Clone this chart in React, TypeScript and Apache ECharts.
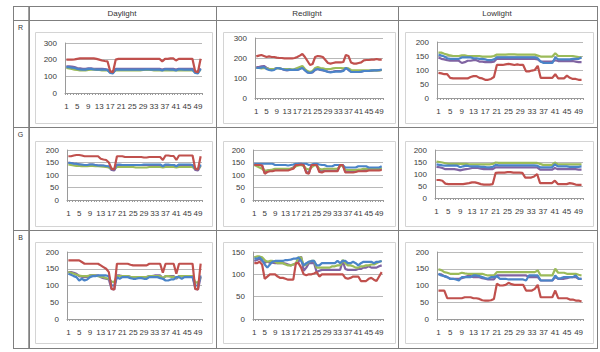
import React, { useEffect, useRef } from "react";
import * as echarts from "echarts";

const categories = Array.from({ length: 50 }, (_, i) => String(i + 1));
const columnTitles = ["Daylight", "Redlight", "Lowlight"];
const rowTitles = ["R", "G", "B"];

// Row R
const dayR_red = [200,200,200,202,205,208,208,208,208,208,208,205,200,195,192,190,130,125,200,205,205,205,205,205,205,205,205,205,205,205,205,205,205,205,205,190,205,205,208,208,195,205,205,205,205,205,205,130,125,205];
const dayR_blue = [155,155,152,150,145,142,140,140,145,145,142,140,140,140,140,138,120,118,140,142,140,140,140,140,140,140,140,140,140,142,142,140,140,140,140,135,142,142,140,140,135,142,142,140,140,140,140,120,118,145];
const dayR_green = [150,148,145,140,138,135,135,135,138,140,140,138,138,136,136,135,125,125,135,136,136,136,136,136,136,136,136,136,138,138,138,138,136,136,136,135,136,136,136,136,135,136,136,136,136,136,136,125,125,140];
const dayR_purple = [160,160,158,155,150,148,145,145,148,148,145,145,145,145,143,140,128,125,145,145,145,145,145,145,145,145,145,145,145,145,145,145,145,145,145,140,145,145,145,145,140,145,145,145,145,145,145,128,125,148];

const redR_red = [208,212,215,210,205,208,205,205,202,200,200,198,198,198,198,200,205,212,220,205,185,165,170,205,210,208,205,190,175,172,175,178,178,178,180,215,210,178,172,172,175,178,188,190,190,192,192,195,192,192];
const redR_blue = [150,150,152,155,145,140,138,140,150,148,145,142,140,142,140,142,140,145,150,138,128,125,130,142,145,142,140,135,130,128,130,132,132,132,135,150,142,130,130,130,130,132,135,135,135,138,138,138,140,142];
const redR_green = [150,150,148,150,148,145,145,145,148,148,145,145,145,145,143,145,150,155,160,145,135,130,135,150,155,150,148,145,145,145,148,150,150,150,148,150,148,140,138,138,138,138,138,138,138,138,138,138,138,140];
const redR_purple = [155,155,158,160,152,145,145,145,150,150,145,140,138,140,140,140,140,145,155,140,128,125,128,140,145,140,138,135,132,130,132,135,135,135,138,150,140,132,130,130,130,132,135,135,135,135,138,138,138,140];

const lowR_green = [162,162,158,155,152,150,150,150,152,152,150,150,150,150,150,148,148,148,148,150,155,155,155,155,156,156,156,155,155,155,155,155,155,155,152,148,148,148,148,148,160,150,150,150,150,150,150,148,146,145];
const lowR_blue = [155,152,148,142,140,140,140,140,145,145,145,145,142,142,140,140,138,135,135,138,145,145,145,145,145,145,145,145,145,145,145,145,145,145,142,130,125,125,125,125,145,138,138,138,138,138,140,140,140,145];
const lowR_purple = [145,140,138,135,133,133,133,133,125,128,133,133,135,135,130,130,128,128,128,130,140,140,140,140,140,140,140,140,140,140,140,140,140,140,138,130,130,130,130,130,135,132,132,132,132,132,132,130,128,128];
const lowR_red = [90,88,85,85,72,70,70,70,70,70,70,75,78,78,72,70,65,65,68,75,118,118,118,120,122,120,118,120,118,118,95,95,98,100,115,72,72,72,72,72,85,70,70,70,80,72,68,68,65,65];

// Row G
const dayG_red = [175,175,178,180,180,178,175,175,175,175,175,175,165,162,160,150,125,122,175,175,175,172,172,172,172,172,172,172,170,170,172,172,172,172,172,160,178,178,176,176,160,178,178,178,178,178,178,125,122,175];
const dayG_blue = [148,148,145,145,142,142,140,140,142,142,140,138,138,138,136,135,125,122,142,142,140,140,140,140,140,140,140,140,142,142,142,142,142,142,142,135,142,142,140,140,135,142,142,142,142,142,140,125,122,142];
const dayG_green = [142,140,138,136,136,135,135,135,136,136,135,135,134,133,132,130,125,125,132,132,132,132,132,132,132,130,130,130,130,130,132,132,132,132,132,130,132,132,132,132,130,132,132,132,132,132,132,125,125,135];
const dayG_purple = [150,148,146,145,143,140,140,140,142,142,140,138,138,137,135,133,120,118,140,140,140,140,140,140,140,140,140,140,140,140,140,140,140,140,140,133,140,140,140,140,133,140,140,140,140,140,138,120,118,138];

const redG_blue = [145,145,145,145,145,145,145,145,140,140,140,140,140,138,140,142,145,145,145,145,145,140,142,145,145,142,140,140,135,135,135,140,140,140,140,130,130,130,130,130,135,135,135,135,130,130,130,130,130,135];
const redG_red = [140,140,140,138,105,112,115,115,118,118,118,118,118,118,122,125,140,140,142,140,108,105,140,140,140,112,110,115,115,115,115,115,115,140,140,110,110,110,110,112,115,115,115,115,118,118,118,118,118,120];
const redG_green = [140,135,130,125,118,118,120,122,125,125,125,125,125,125,125,128,135,138,140,135,125,122,130,138,138,125,122,125,125,125,125,125,125,135,138,122,120,120,120,120,122,122,125,125,125,125,125,125,125,128];
const redG_purple = [145,142,140,138,110,118,120,120,122,122,122,122,122,122,125,130,142,145,145,138,112,110,138,140,140,118,115,118,118,118,118,118,118,140,140,115,115,115,115,115,120,120,120,120,122,122,122,122,122,125];

const lowG_green = [152,150,148,145,142,142,142,142,142,142,142,140,140,140,140,140,140,140,140,142,148,146,146,146,146,146,146,146,146,146,146,146,146,146,146,142,138,138,138,138,148,140,140,140,140,140,140,140,140,140];
const lowG_blue = [140,138,136,135,135,135,135,135,128,132,135,133,132,132,132,130,130,128,128,130,138,136,136,136,136,136,136,136,136,136,136,136,136,136,135,128,128,128,128,128,140,132,132,132,132,130,130,130,130,132];
const lowG_purple = [130,128,125,120,120,120,120,118,115,118,120,122,125,125,125,122,120,120,120,120,128,128,128,128,128,128,128,128,128,128,128,128,128,128,128,118,118,118,118,118,125,120,120,120,120,120,120,120,118,118];
const lowG_red = [75,75,72,60,58,58,58,58,58,58,60,62,65,65,62,58,56,56,56,58,105,106,106,106,108,108,106,106,106,105,85,85,85,90,100,62,62,62,62,62,72,58,58,58,58,62,60,56,55,55];

// Row B
const dayB_red = [175,175,175,175,175,170,165,165,165,165,165,165,160,155,150,140,90,88,165,165,165,165,165,162,160,160,160,160,160,160,165,165,165,165,165,138,165,165,165,165,135,165,165,165,165,165,165,90,88,165];
const dayB_blue = [135,132,128,125,115,120,115,118,125,128,128,130,130,130,130,128,100,100,125,120,125,125,125,122,120,120,122,122,120,120,125,125,125,125,122,120,115,115,118,118,125,125,120,125,125,125,125,100,100,130];
const dayB_green = [140,138,135,132,130,128,128,128,130,130,130,128,126,125,122,120,112,110,128,128,128,128,128,126,125,125,125,125,125,125,128,128,128,128,128,122,128,128,126,126,122,128,128,128,128,128,128,110,108,125];
const dayB_purple = [140,140,138,135,128,126,125,126,130,130,130,130,125,122,120,118,90,88,130,130,128,128,128,126,125,125,125,125,125,125,128,128,130,130,130,120,128,128,128,128,120,128,128,128,128,128,128,90,88,125];

const redB_blue = [135,135,138,132,122,115,122,128,130,130,130,130,132,132,133,135,135,138,130,120,125,128,130,130,120,120,125,125,125,125,125,125,130,125,130,130,125,125,128,125,120,125,128,128,128,128,125,128,128,130];
const redB_green = [138,140,140,138,132,128,130,130,128,125,125,125,122,120,120,122,125,138,138,120,122,128,130,130,115,115,115,115,115,115,118,118,120,120,132,125,120,120,118,115,115,118,118,120,120,122,122,125,128,130];
const redB_purple = [130,132,135,130,126,128,126,126,125,125,125,125,124,122,120,122,124,128,140,108,115,125,125,125,105,108,110,110,110,110,110,110,110,110,130,112,110,110,110,110,112,112,115,115,118,115,115,115,118,120];
const redB_red = [125,125,128,122,90,95,100,100,100,95,92,92,90,88,88,88,125,125,115,100,98,100,100,102,105,95,100,100,100,100,100,100,100,100,100,92,90,92,95,95,95,85,85,85,90,92,88,85,95,105];

const lowB_green = [148,146,140,138,135,135,135,135,138,136,135,135,135,135,135,135,132,130,130,130,140,140,140,140,140,140,140,140,140,140,140,140,140,140,145,130,130,130,130,130,150,138,138,138,135,135,135,135,132,130];
const lowB_blue = [135,130,128,125,120,120,118,115,125,125,125,125,130,130,128,125,122,120,125,125,128,120,120,120,118,118,118,118,118,118,115,130,130,130,130,115,115,115,115,115,130,120,122,125,125,125,125,130,120,120];
const lowB_purple = [133,133,128,125,120,120,120,120,122,125,128,128,125,125,125,122,120,118,118,118,130,130,130,130,130,130,130,130,130,130,130,125,125,125,125,115,115,115,115,115,125,120,120,120,122,125,125,125,120,120];
const lowB_red = [85,85,85,62,62,62,62,62,62,65,65,65,62,62,60,56,55,55,56,60,105,100,100,102,108,104,102,102,102,102,85,85,85,90,102,65,65,65,65,65,85,62,62,62,62,58,58,55,55,52];

const COLORS = { purple: "#8064A2", green: "#9BBB59", blue: "#4A84C8", red: "#C0504D" };

type Panel = { data: number[][]; max: number; interval: number; grid: { left: number; top: number; width: number; height: number } };

const panels: Panel[] = [
  { data: [dayR_purple, dayR_green, dayR_blue, dayR_red], max: 300, interval: 100, grid: { left: 65, top: 43, width: 137, height: 50 } },
  { data: [redR_purple, redR_green, redR_blue, redR_red], max: 300, interval: 100, grid: { left: 255, top: 38, width: 128, height: 60 } },
  { data: [lowR_purple, lowR_green, lowR_blue, lowR_red], max: 200, interval: 50, grid: { left: 437, top: 42, width: 146, height: 56 } },
  { data: [dayG_purple, dayG_green, dayG_blue, dayG_red], max: 200, interval: 50, grid: { left: 67, top: 150, width: 135, height: 50 } },
  { data: [redG_purple, redG_green, redG_blue, redG_red], max: 200, interval: 50, grid: { left: 253, top: 150, width: 130, height: 50 } },
  { data: [lowG_purple, lowG_green, lowG_blue, lowG_red], max: 200, interval: 50, grid: { left: 435, top: 150, width: 148, height: 48 } },
  { data: [dayB_purple, dayB_green, dayB_blue, dayB_red], max: 200, interval: 50, grid: { left: 67, top: 252, width: 135, height: 67 } },
  { data: [redB_purple, redB_green, redB_blue, redB_red], max: 150, interval: 50, grid: { left: 253, top: 252, width: 130, height: 67 } },
  { data: [lowB_purple, lowB_green, lowB_blue, lowB_red], max: 200, interval: 50, grid: { left: 437, top: 252, width: 146, height: 67 } },
];

const boxCols = [[35, 212], [223, 395], [405, 593]];
const boxRows = [[32, 123], [141, 226], [242, 343]];

export default function App() {
  const ref = useRef<HTMLDivElement>(null);
  useEffect(() => {
    if (!ref.current) return;
    const chart = echarts.init(ref.current, undefined, { renderer: "svg" });
    const seriesColors = [COLORS.purple, COLORS.green, COLORS.blue, COLORS.red];
    const grids = panels.map((p) => ({ ...p.grid, containLabel: false }));
    const xAxes = panels.map((_, i) => ({
      type: "category",
      gridIndex: i,
      data: categories,
      boundaryGap: true,
      axisLine: { lineStyle: { color: "#9a9a9a", width: 1 } },
      axisTick: { show: true, interval: 0, length: 2, lineStyle: { color: "#9a9a9a" } },
      axisLabel: { interval: 3, fontSize: 8, color: "#3a3a3a", margin: 9, fontFamily: "Liberation Sans" },
    }));
    const yAxes = panels.map((p, i) => ({
      type: "value",
      gridIndex: i,
      min: 0,
      max: p.max,
      interval: p.interval,
      axisLine: { show: true, lineStyle: { color: "#9a9a9a", width: 1 } },
      axisTick: { show: false },
      splitLine: { show: true, lineStyle: { color: "#b8b8b8", width: 1 } },
      axisLabel: { fontSize: 8, color: "#3a3a3a", margin: 8, fontFamily: "Liberation Sans" },
    }));
    const series: any[] = [];
    panels.forEach((p, i) => {
      p.data.forEach((d, k) => {
        series.push({
          type: "line",
          xAxisIndex: i,
          yAxisIndex: i,
          data: d,
          showSymbol: false,
          symbol: "none",
          lineStyle: { color: seriesColors[k], width: 2.2 },
          itemStyle: { color: seriesColors[k] },
          z: 2 + k,
        });
      });
    });
    const lineStyle = { stroke: "#7f7f7f", lineWidth: 1 };
    const graphic: any[] = [];
    boxRows.forEach(([t, b]) => {
      boxCols.forEach(([l, r]) => {
        graphic.push({ type: "rect", shape: { x: l + 0.5, y: t + 0.5, width: r - l, height: b - t }, style: { fill: "none", stroke: "#d4d4d4", lineWidth: 1 }, z: 0 });
      });
    });
    const vx = [13, 29, 216, 398, 597];
    vx.forEach((x) => graphic.push({ type: "line", shape: { x1: x + 0.5, y1: 6, x2: x + 0.5, y2: 348 }, style: lineStyle, z: 10 }));
    graphic.push({ type: "line", shape: { x1: 28.5, y1: 6, x2: 28.5, y2: 348 }, style: { stroke: "#a0a0a0", lineWidth: 1 }, z: 10 });
    const hy = [6, 20, 127, 230, 348];
    hy.forEach((y) => graphic.push({ type: "line", shape: { x1: 13, y1: y + 0.5, x2: 598, y2: y + 0.5 }, style: lineStyle, z: 10 }));
    const headerX = [122, 307, 497];
    columnTitles.forEach((t, i) => graphic.push({ type: "text", x: headerX[i], y: 13.5, style: { text: t, fontSize: 8, fill: "#333", fontFamily: "Liberation Sans", align: "center", verticalAlign: "middle" }, z: 11 }));
    const rowY = [27, 134, 237];
    rowTitles.forEach((t, i) => graphic.push({ type: "text", x: 20.5, y: rowY[i], style: { text: t, fontSize: 7, fill: "#333", fontFamily: "Liberation Sans", align: "center", verticalAlign: "middle" }, z: 11 }));

    chart.setOption({
      animation: false,
      backgroundColor: "#ffffff",
      grid: grids,
      xAxis: xAxes,
      yAxis: yAxes,
      series,
      graphic,
    });
    return () => chart.dispose();
  }, []);
  return <div ref={ref} style={{ position: "absolute", left: 0, top: 0, width: 600, height: 352 }} />;
}
